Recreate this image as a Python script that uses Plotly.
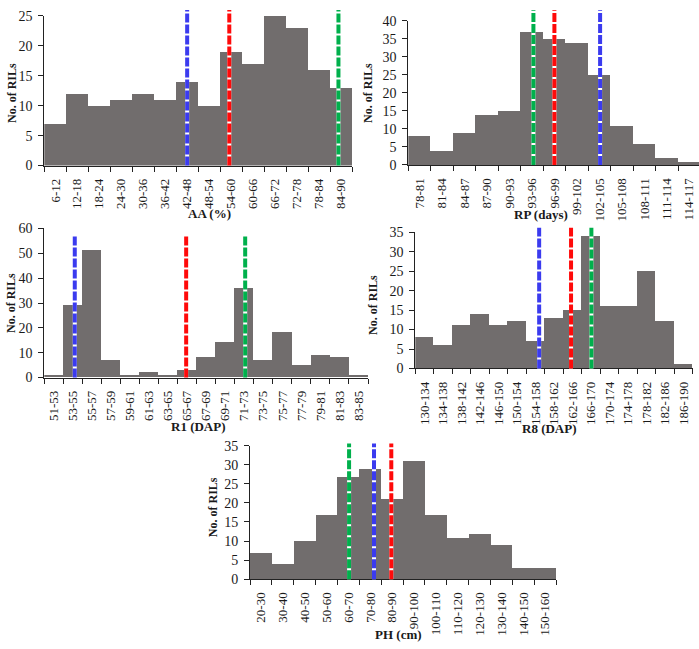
import plotly.graph_objects as go

# ---------------- data ----------------
aa_labels = ["6-12", "12-18", "18-24", "24-30", "30-36", "36-42", "42-48",
             "48-54", "54-60", "60-66", "66-72", "72-78", "78-84", "84-90"]
aa_counts = [7, 12, 10, 11, 12, 11, 14, 10, 19, 17, 25, 23, 16, 13]
aa_parents = {"blue": 45.0, "red": 56.5, "green": 86.3}

rp_labels = ["78-81", "81-84", "84-87", "87-90", "90-93", "93-96", "96-99",
             "99-102", "102-105", "105-108", "108-111", "111-114", "114-117"]
rp_counts = [8, 4, 9, 14, 15, 37, 35, 34, 25, 11, 6, 2, 1]
rp_parents = {"green": 94.7, "red": 97.5, "blue": 103.6}

r1_labels = ["51-53", "53-55", "55-57", "57-59", "59-61", "61-63", "63-65",
             "65-67", "67-69", "69-71", "71-73", "73-75", "75-77", "77-79",
             "79-81", "81-83", "83-85"]
r1_counts = [1, 29, 51, 7, 1, 2, 1, 3, 8, 14, 36, 7, 18, 5, 9, 8, 1]
r1_parents = {"blue": 54.2, "red": 65.9, "green": 72.1}

r8_labels = ["130-134", "134-138", "138-142", "142-146", "146-150", "150-154",
             "154-158", "158-162", "162-166", "166-170", "170-174", "174-178",
             "178-182", "182-186", "186-190"]
r8_counts = [8, 6, 11, 14, 11, 12, 7, 13, 15, 34, 16, 16, 25, 12, 1]
r8_parents = {"blue": 156.8, "red": 163.7, "green": 168.1}

ph_labels = ["20-30", "30-40", "40-50", "50-60", "60-70", "70-80", "80-90",
             "90-100", "100-110", "110-120", "120-130", "130-140", "140-150",
             "150-160"]
ph_counts = [7, 4, 10, 17, 27, 29, 21, 31, 17, 11, 12, 9, 3, 3]
ph_parents = {"green": 65.3, "blue": 76.7, "red": 84.6}

x_titles = ["AA (%)", "RP (days)", "R1 (DAP)", "R8 (DAP)", "PH (cm)"]
y_title = "No. of RILs"
y_maxes = [25, 40, 60, 35, 35]
y_steps = [5, 5, 10, 5, 5]

# ---------------- style / layout ----------------
W, H = 699, 649
FONT = "Liberation Serif"
BAR = "#716d6d"
LINE_COLORS = {"blue": "#3b3bef", "red": "#ff0a0a", "green": "#00b04c"}

# panel boxes in pixels: (x_left, x_right, y_top, y_bottom), x range end override
panels = [
    dict(box=(44.3, 352.0, 9.0, 162.3), xend=None, ltop=1.039,
         xt=(209, 211), yt=(12, 88)),
    dict(box=(408.3, 699.0, 14.0, 161.7), xend=116.8, ltop=1.072,
         xt=(541, 212), yt=(368, 88)),
    dict(box=(44.3, 368.0, 226.7, 379.3), xend=None, ltop=0.952,
         xt=(198, 429), yt=(11, 303)),
    dict(box=(415.3, 692.6, 230.7, 370.0), xend=None, ltop=1.034,
         xt=(549, 431), yt=(373, 305)),
    dict(box=(250.0, 556.2, 449.0, 585.7), xend=None, ltop=1.015,
         xt=(398, 642), yt=(213, 512)),
]

datasets = [
    (aa_labels, aa_counts, aa_parents),
    (rp_labels, rp_counts, rp_parents),
    (r1_labels, r1_counts, r1_parents),
    (r8_labels, r8_counts, r8_parents),
    (ph_labels, ph_counts, ph_parents),
]

fig = go.Figure()
layout = dict(
    width=W, height=H, margin=dict(l=0, r=0, t=0, b=0),
    paper_bgcolor="white", plot_bgcolor="white",
    showlegend=False, bargap=0,
    font=dict(family=FONT, color="#1a1a1a"),
    shapes=[], annotations=[],
)

for i, ((labels, counts, parents), p) in enumerate(zip(datasets, panels), start=1):
    lo = [float(s.split("-")[0]) for s in labels]
    hi = [float(s.split("-")[1]) for s in labels]
    centers = [(a + b) / 2 for a, b in zip(lo, hi)]
    widths = [b - a for a, b in zip(lo, hi)]
    edges = lo + [hi[-1]]
    xa = "x" if i == 1 else f"x{i}"
    ya = "y" if i == 1 else f"y{i}"
    fig.add_trace(go.Bar(x=centers, y=counts, width=widths, marker_color=BAR,
                         marker_line_width=0, xaxis=xa, yaxis=ya,
                         hoverinfo="skip"))
    xl, xr, yt, yb = p["box"]
    xend = p["xend"] if p["xend"] is not None else hi[-1]
    key = "" if i == 1 else str(i)
    layout["xaxis" + key] = dict(
        domain=[xl / W, xr / W], anchor=ya, range=[lo[0], xend],
        tickmode="array", tickvals=centers, ticktext=labels, ticks="",
        tickangle=-90, tickfont=dict(family=FONT, size=13, color="#1a1a1a"),
        showline=True, linecolor="#222", linewidth=1, showgrid=False,
        zeroline=False, ticklabelstandoff=7,
        minor=dict(tickmode="array", tickvals=edges, ticks="outside",
                   ticklen=5, tickcolor="#222", tickwidth=1, showgrid=False),
    )
    layout["yaxis" + key] = dict(
        domain=[1 - yb / H, 1 - yt / H], anchor=xa, range=[0, y_maxes[i - 1]],
        dtick=y_steps[i - 1], tick0=0, ticks="outside", ticklen=5,
        tickcolor="#222", tickfont=dict(family=FONT, size=14, color="#1a1a1a"),
        showline=True, linecolor="#222", linewidth=1, showgrid=False,
        zeroline=False, ticklabelstandoff=3,
    )
    for cname, val in parents.items():
        for col, dash in (("white", "solid"), (LINE_COLORS[cname], "9px,2px")):
            layout["shapes"].append(dict(
                type="line", xref=xa, yref=ya + " domain", x0=val, x1=val,
                y0=0, y1=p["ltop"], line=dict(color=col, width=4, dash=dash),
                layer="above"))
    # axis titles
    tx, ty = p["xt"]
    layout["annotations"].append(dict(
        text="<b>" + x_titles[i - 1] + "</b>", xref="paper", yref="paper",
        x=tx / W, y=1 - ty / H, showarrow=False, xanchor="center",
        yanchor="middle", font=dict(family=FONT, size=13, color="#1a1a1a")))
    yx, yy = p["yt"]
    layout["annotations"].append(dict(
        text="<b>" + y_title + "</b>", xref="paper", yref="paper",
        x=yx / W, y=1 - yy / H, showarrow=False, textangle=-90,
        xanchor="center", yanchor="middle",
        font=dict(family=FONT, size=12, color="#1a1a1a")))

fig.update_layout(**layout)
fig.write_html("out.html")
